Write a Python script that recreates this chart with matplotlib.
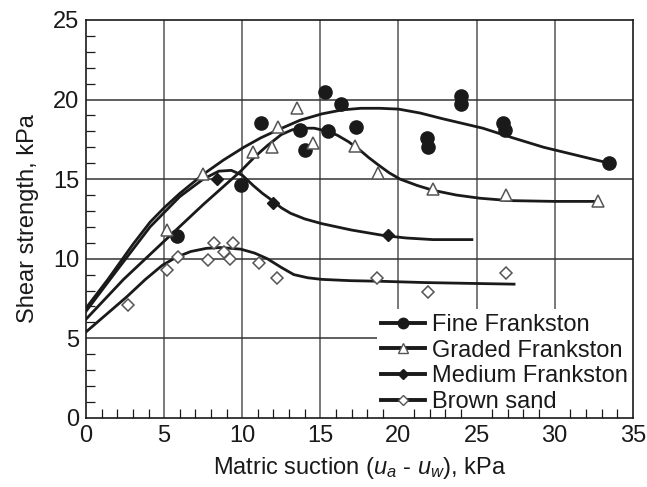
import matplotlib.pyplot as plt
from matplotlib.ticker import MultipleLocator

plt.rcParams["font.family"] = ["Liberation Sans", "DejaVu Sans"]
plt.rcParams["mathtext.fontset"] = "custom"
plt.rcParams["mathtext.it"] = "Liberation Sans:italic"
plt.rcParams["mathtext.rm"] = "Liberation Sans"

# measured points: matric suction (kPa), shear strength (kPa)
fine_x = [5.8, 11.2, 9.9, 13.7, 14.0, 15.3, 15.5, 16.3, 17.3, 21.8, 21.9, 24.0, 24.0, 26.7, 26.8, 33.5]
fine_y = [11.4, 18.5, 14.6, 18.1, 16.8, 20.5, 18.0, 19.7, 18.3, 17.6, 17.0, 20.2, 19.7, 18.5, 18.1, 16.0]

graded_x = [5.2, 7.5, 10.7, 11.9, 12.3, 13.5, 14.5, 17.2, 18.7, 22.2, 26.9, 32.8]
graded_y = [11.8, 15.3, 16.7, 17.0, 18.3, 19.5, 17.3, 17.1, 15.4, 14.4, 14.0, 13.6]

medium_x = [8.4, 12.0, 19.3]
medium_y = [15.0, 13.5, 11.5]

brown_x = [2.7, 5.2, 5.9, 7.8, 8.2, 8.8, 9.2, 9.4, 11.1, 12.2, 21.9, 26.9, 18.6]
brown_y = [7.1, 9.3, 10.1, 9.9, 11.0, 10.4, 10.0, 11.0, 9.7, 8.8, 7.9, 9.1, 8.8]

# fitted curves
fine_fit_x = [0, 1.4, 3.0, 4.1, 5.0, 6.0, 7.5, 8.8, 10.1, 11.2, 12.3, 13.7, 15.1, 16.4, 17.6, 18.8, 20.0, 21.4, 22.8, 24.1, 25.4, 27.3, 29.3, 31.4, 33.5]
fine_fit_y = [6.9, 8.7, 10.9, 12.3, 13.2, 14.1, 15.3, 16.2, 17.0, 17.6, 18.1, 18.7, 19.1, 19.35, 19.45, 19.45, 19.4, 19.15, 18.8, 18.5, 18.2, 17.6, 17.0, 16.5, 16.0]

graded_fit_x = [0, 2.4, 5.0, 7.5, 9.9, 10.8, 11.6, 12.5, 13.2, 13.8, 14.6, 15.5, 16.1, 16.8, 17.5, 18.1, 18.7, 19.4, 20.1, 21.2, 22.2, 23.7, 25.2, 27.1, 30.0, 32.8]
graded_fit_y = [6.2, 8.7, 11.1, 13.4, 15.5, 16.4, 17.1, 17.8, 18.1, 18.2, 18.2, 18.0, 17.75, 17.35, 16.85, 16.35, 15.9, 15.4, 15.0, 14.6, 14.3, 14.0, 13.8, 13.65, 13.6, 13.6]

medium_fit_x = [0, 2.0, 4.1, 6.0, 7.5, 8.5, 9.3, 10.0, 10.7, 11.3, 12.0, 12.5, 13.1, 14.0, 15.1, 17.0, 19.1, 20.5, 22.2, 24.7]
medium_fit_y = [6.7, 9.3, 12.0, 13.9, 15.0, 15.5, 15.55, 15.25, 14.6, 14.1, 13.6, 13.2, 12.85, 12.5, 12.2, 11.8, 11.45, 11.3, 11.2, 11.2]

brown_fit_x = [0, 1.3, 2.6, 3.8, 4.9, 5.8, 6.7, 7.7, 8.6, 9.9, 10.8, 11.6, 12.5, 13.3, 14.2, 15.1, 16.9, 18.9, 21.7, 24.5, 27.4]
brown_fit_y = [5.4, 6.5, 7.6, 8.7, 9.6, 10.1, 10.45, 10.65, 10.7, 10.6, 10.35, 10.0, 9.45, 9.0, 8.8, 8.7, 8.62, 8.58, 8.5, 8.45, 8.4]

fig = plt.figure(figsize=(6.47, 4.87), dpi=100)
ax = fig.add_axes([0.133, 0.142, 0.845, 0.817])

ink = "#1a1a1a"
edge = "#555555"

# grid drawn by hand so the legend can cover it
for gx in [5, 10, 15, 20, 25, 30]:
    ax.axvline(gx, color="#555555", lw=1.1, zorder=0.5)
for gy in [5, 10, 15, 20]:
    ax.axhline(gy, color="#333333", lw=1.1, zorder=0.5)

line_kw = dict(color=ink, lw=2.0, zorder=2)
ax.plot(fine_fit_x, fine_fit_y, **line_kw)
ax.plot(graded_fit_x, graded_fit_y, **line_kw)
ax.plot(medium_fit_x, medium_fit_y, **line_kw)
ax.plot(brown_fit_x, brown_fit_y, **line_kw)

ax.plot(fine_x, fine_y, "o", ms=9.5, mfc=ink, mec=ink, zorder=3)
ax.plot(graded_x, graded_y, "^", ms=9, mfc="white", mec=edge, mew=1.1, zorder=3)
ax.plot(medium_x, medium_y, "D", ms=6.3, mfc=ink, mec=ink, zorder=3)
ax.plot(brown_x, brown_y, "D", ms=6.3, mfc="white", mec=edge, mew=1.1, zorder=3)

# legend handles
h_fine, = ax.plot([], [], "-o", color=ink, lw=2.8, ms=7.5, mfc=ink, mec=ink)
h_graded, = ax.plot([], [], "-^", color=ink, lw=2.8, ms=7.5, mfc="white", mec=edge, mew=1.0)
h_medium, = ax.plot([], [], "-D", color=ink, lw=2.8, ms=5, mfc=ink, mec=ink)
h_brown, = ax.plot([], [], "-D", color=ink, lw=2.8, ms=5, mfc="white", mec=edge, mew=1.0)

leg = ax.legend(
    [h_fine, h_graded, h_medium, h_brown],
    ["Fine Frankston", "Graded Frankston", "Medium Frankston", "Brown sand"],
    loc="lower right",
    bbox_to_anchor=(1.0, 0.0),
    fontsize=17,
    frameon=True,
    fancybox=False,
    edgecolor="none",
    facecolor="white",
    framealpha=1.0,
    handlelength=1.85,
    handletextpad=0.3,
    labelspacing=0.16,
    borderpad=0.2,
    borderaxespad=0.0,
)
leg.set_zorder(5)
for t in leg.get_texts():
    t.set_color(ink)

ax.set_xlim(0, 35)
ax.set_ylim(0, 25)
ax.xaxis.set_major_locator(MultipleLocator(5))
ax.yaxis.set_major_locator(MultipleLocator(5))
ax.xaxis.set_minor_locator(MultipleLocator(1))
ax.yaxis.set_minor_locator(MultipleLocator(1))
ax.tick_params(axis="both", which="both", direction="in", colors=ink, labelsize=17,
               top=False, right=False)
ax.tick_params(axis="both", which="major", length=0, pad=5)
ax.tick_params(axis="both", which="minor", length=6.5, width=0.9)

ax.xaxis.set_zorder(6)
ax.yaxis.set_zorder(6)
for sp in ax.spines.values():
    sp.set_color(ink)
    sp.set_linewidth(1.2)
    sp.set_zorder(6)

ax.set_xlabel(r"Matric suction ($u_a$ - $u_w$), kPa", fontsize=17, color=ink, labelpad=6)
ax.set_ylabel("Shear strength, kPa", fontsize=17, color=ink, labelpad=10)

fig.savefig("out.png", dpi=100)
